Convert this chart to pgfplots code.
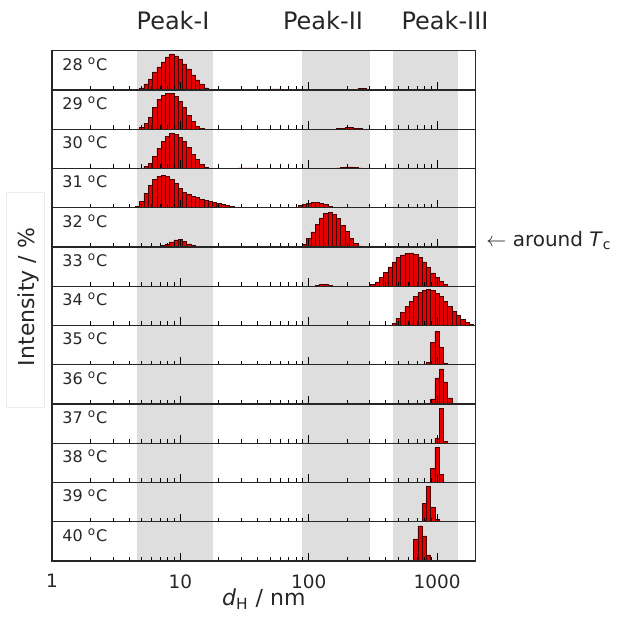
\documentclass[border=0pt]{standalone}
\usepackage{fontspec}
\setmainfont{DejaVu Sans}
\usepackage{pgfplots}
\pgfplotsset{compat=1.18}
\definecolor{bandgrey}{RGB}{222,222,222}
\definecolor{barfill}{RGB}{228,0,0}
\definecolor{baredge}{RGB}{70,0,0}
\definecolor{faint}{RGB}{236,236,236}
\pgfplotsset{
  scale only axis,
  width=211.85pt, height=19.625pt,
  xmin=1, xmax=2000, ymin=0, ymax=39.25,
  ytick=\empty, xtick={10,100,1000},
  minor xtick={2,3,4,5,6,7,8,9,20,30,40,50,60,70,80,90,200,300,400,500,600,700,800,900},
  xticklabels={}, tick align=inside, xtick pos=left,
  major tick length=4pt, minor tick length=2pt,
  tick style={black, line width=0.5pt},
  axis line style={line width=0.65pt, black!85},
  axis on top,
  bars/.style={ybar, bar width=2.14pt, bar shift=0pt, fill=barfill, draw=baredge, line width=0.3pt}
}
\newcommand{\greys}{%
  \fill[bandgrey] (axis cs:4.6,0) rectangle (axis cs:18,39.25);
  \fill[bandgrey] (axis cs:88,0) rectangle (axis cs:300,39.25);
  \fill[bandgrey] (axis cs:450,0) rectangle (axis cs:1450,39.25);}
\newcommand{\tlab}[1]{\node[anchor=base west, inner sep=0pt, font=\fontsize{8}{9}\selectfont, text=black!85, xshift=5pt, yshift=-9.65pt] at (rel axis cs:0,1) {#1 \textsuperscript{o}C};}
\begin{document}
\begin{tikzpicture}
\useasboundingbox (0,0) rectangle (317pt,314.5pt);
% faint frame around the y label
\draw[faint, line width=0.5pt] (3.5pt,111pt) rectangle (22.5pt,218.5pt);

% 28
\begin{axis}[xmode=log, at={(26pt,289.15pt)}, anchor=north west]
\greys
\addplot[bars] coordinates {(5.012,2)(5.412,6)(5.843,11)(6.310,18)(6.813,23)(7.356,28)(7.943,33)(8.577,36)(9.261,34)(10,31)(10.80,26)(11.66,21)(12.59,15)(13.59,10)(14.68,6)(15.85,2)(54.12,1)(58.43,1)(251.2,1.5)(271.2,1.5)};
\tlab{28}
\end{axis}
% 29
\begin{axis}[xmode=log, at={(26pt,269.525pt)}, anchor=north west]
\greys
\addplot[bars] coordinates {(5.012,2)(5.412,6)(5.843,12)(6.310,22)(6.813,30)(7.356,34)(7.943,36)(8.577,36)(9.261,33)(10,28)(10.80,22)(11.66,14)(12.59,8)(13.59,3)(14.68,1)(171.1,0.5)(184.8,1)(199.5,1.5)(215.4,1.5)(232.6,1)(251.2,0.5)};
\tlab{29}
\end{axis}
% 30
\begin{axis}[xmode=log, at={(26pt,249.9pt)}, anchor=north west]
\greys
\addplot[bars] coordinates {(5.412,2)(5.843,5)(6.310,12)(6.813,20)(7.356,27)(7.943,32)(8.577,35)(9.261,34)(10,31)(10.80,27)(11.66,21)(12.59,14)(13.59,9)(14.68,4)(15.85,1)(29.29,0.5)(31.62,0.5)(34.15,0.5)(36.87,0.5)(171.1,0.5)(184.8,1)(199.5,1.5)(215.4,1.5)(232.6,1)(251.2,0.5)};
\tlab{30}
\end{axis}
% 31
\begin{axis}[xmode=log, at={(26pt,230.275pt)}, anchor=north west]
\greys
\addplot[bars] coordinates {(4.642,1.3)(5.012,6.7)(5.412,14.7)(5.843,22.3)(6.310,28)(6.813,31.7)(7.356,32.3)(7.943,31.3)(8.577,28)(9.261,24)(10,19)(10.80,15.7)(11.66,13.3)(12.59,11.3)(13.59,10)(14.68,8.7)(15.85,7.7)(17.11,6.7)(18.48,5.7)(19.95,4.7)(21.54,3.7)(23.26,2.3)(25.12,1.3)(27.12,0.7)(79.43,0.7)(85.77,2)(92.61,3.5)(100,4.7)(108.0,5.3)(116.6,5.3)(125.9,4.7)(135.9,3.3)(146.8,1.7)(158.5,0.7)};
\tlab{31}
\end{axis}
% 32
\begin{axis}[xmode=log, at={(26pt,210.65pt)}, anchor=north west]
\greys
\addplot[bars] coordinates {(7.356,1.3)(7.943,3)(8.577,5)(9.261,7)(10,7.5)(10.80,5.5)(11.66,3)(12.59,1.3)(92.61,2.7)(100,8.3)(108.0,15)(116.6,22.3)(125.9,29)(135.9,33.3)(146.8,34.7)(158.5,32.7)(171.1,28.3)(184.8,21.7)(199.5,15.7)(215.4,8.3)(232.6,3.3)(251.2,1)};
\tlab{32}
\end{axis}
% 33
\begin{axis}[xmode=log, at={(26pt,191.025pt)}, anchor=north west]
\greys
\addplot[bars] coordinates {(116.6,1)(125.9,1.7)(135.9,1.7)(146.8,1)(316.2,1.7)(341.5,4.3)(368.7,8.7)(398.1,14)(429.9,19.3)(464.2,24.3)(501.2,28.7)(541.2,31.3)(584.3,33)(631.0,33.3)(681.3,32)(735.6,28.7)(794.3,24.3)(857.7,18.7)(926.1,13.3)(1000,8.7)(1080,5)(1166,2)};
\tlab{33}
\end{axis}
% 34
\begin{axis}[xmode=log, at={(26pt,171.4pt)}, anchor=north west]
\greys
\addplot[bars] coordinates {(464.2,2)(501.2,7)(541.2,12.7)(584.3,18.7)(631.0,24.3)(681.3,29.3)(735.6,33)(794.3,35.3)(857.7,36)(926.1,34.7)(1000,32)(1080,28.7)(1166,24.3)(1259,19.3)(1359,14.3)(1468,9.7)(1585,6)(1711,3.3)(1848,1.3)};
\tlab{34}
\end{axis}
% 35
\begin{axis}[xmode=log, at={(26pt,151.775pt)}, anchor=north west]
\greys
\addplot[bars] coordinates {(857.7,2)(926.1,22)(1000,33)(1080,17)(1166,1)};
\tlab{35}
\end{axis}
% 36
\begin{axis}[xmode=log, at={(26pt,132.15pt)}, anchor=north west]
\greys
\addplot[bars] coordinates {(926.1,5)(1000,26)(1080,35)(1166,22)(1259,6)};
\tlab{36}
\end{axis}
% 37
\begin{axis}[xmode=log, at={(26pt,112.525pt)}, anchor=north west]
\greys
\addplot[bars] coordinates {(1000,5)(1080,35)(1166,2)};
\tlab{37}
\end{axis}
% 38
\begin{axis}[xmode=log, at={(26pt,92.9pt)}, anchor=north west]
\greys
\addplot[bars] coordinates {(926.1,14)(1000,35)(1080,8)};
\tlab{38}
\end{axis}
% 39
\begin{axis}[xmode=log, at={(26pt,73.275pt)}, anchor=north west]
\greys
\addplot[bars] coordinates {(794.3,18)(857.7,35)(926.1,14)(1000,2)};
\tlab{39}
\end{axis}
% 40
\begin{axis}[xmode=log, at={(26pt,53.65pt)}, anchor=north west, xtick={1,10,100,1000}, xticklabels={1,10,100,1000},
  xticklabel style={font=\fontsize{9.2}{11}\selectfont, text=black!85, yshift=-3.2pt}]
\greys
\addplot[bars] coordinates {(681.3,22)(735.6,35)(794.3,25)(857.7,6)};
\tlab{40}
\end{axis}

% labels
\node[anchor=base, font=\fontsize{12}{14}\selectfont, text=black!85] at (86.5pt,299.85pt) {Peak-I};
\node[anchor=base, font=\fontsize{12}{14}\selectfont, text=black!85] at (161.5pt,299.85pt) {Peak-II};
\node[anchor=base, font=\fontsize{12}{14}\selectfont, text=black!85] at (222.5pt,299.85pt) {Peak-III};
\node[rotate=90, font=\fontsize{11}{13}\selectfont, text=black!85] at (14pt,166pt) {Intensity / \%};
\node[anchor=base, inner sep=0pt, font=\fontsize{11}{13}\selectfont, text=black!85] at (131.9pt,11.8pt) {\textit{d}\textsubscript{H} / nm};
\node[anchor=west, inner sep=0pt, font=\fontsize{10}{12}\selectfont, text=black!85] at (243pt,194pt) {$\leftarrow$ around \textit{T}\textsubscript{c}};
\end{tikzpicture}
\end{document}
